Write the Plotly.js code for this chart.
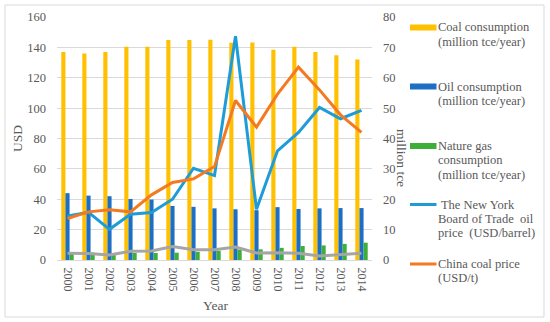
<!DOCTYPE html>
<html><head><meta charset="utf-8">
<script src="https://cdn.plot.ly/plotly-3.0.1.min.js"></script>
<style>html,body{margin:0;padding:0;background:#fff;}#chart{width:550px;height:322px;}</style>
</head><body><div id="chart"></div>
<script>
const years = ['2000','2001','2002','2003','2004','2005','2006','2007','2008','2009','2010','2011','2012','2013','2014'];
const coalConsumption = [68.5,68.0,68.5,70.2,70.2,72.4,72.4,72.5,71.5,71.6,69.2,70.2,68.5,67.4,66.0];
const oilConsumption = [22.0,21.2,21.0,20.1,19.9,17.8,17.5,17.0,16.7,16.4,17.4,16.8,17.0,17.1,17.1];
const gasConsumption = [2.2,2.4,2.3,2.3,2.3,2.4,2.7,3.0,3.4,3.5,4.0,4.6,4.8,5.3,5.7];
const nyOilPrice = [29.0,31.4,20.2,30.1,31.2,40.0,60.4,55.6,147.3,33.4,71.9,84.0,100.4,93.0,98.5];
const chinaCoalPrice = [27.3,31.7,33.0,31.7,42.9,51.0,53.4,61.5,105.0,87.5,109.2,127.0,112.0,95.6,84.0];
const grayPrice = [4.4,4.2,3.3,5.7,5.9,8.8,6.8,6.8,8.6,4.6,4.8,4.4,2.7,3.6,4.5];
const legendLabels = [
  ['Coal consumption','(million tce/year)'],
  ['Oil consumption','(million tce/year)'],
  ['Nature gas','consumption','(million tce/year)'],
  [' The New York','Board of Trade  oil','price  (USD/barrel)'],
  ['China coal price','(USD/t)']
];

const colors = {coal:'#FFC000', oil:'#1C6FC4', gas:'#3DAE3A', ny:'#1E9CD8', cn:'#F47A22', gray:'#A5A5A5'};
const serif = 'Liberation Serif, Times New Roman, serif';
const txt = '#595959';

const traces = [
  {type:'bar', x:years, y:coalConsumption, yaxis:'y', marker:{color:colors.coal}, showlegend:false},
  {type:'bar', x:years, y:oilConsumption, yaxis:'y', marker:{color:colors.oil}, showlegend:false},
  {type:'bar', x:years, y:gasConsumption, yaxis:'y', marker:{color:colors.gas}, showlegend:false},
  {type:'scatter', mode:'lines', x:years, y:grayPrice, yaxis:'y2', line:{color:colors.gray, width:3}, showlegend:false},
  {type:'scatter', mode:'lines', x:years, y:nyOilPrice, yaxis:'y2', line:{color:colors.ny, width:3}, showlegend:false},
  {type:'scatter', mode:'lines', x:years, y:chinaCoalPrice, yaxis:'y2', line:{color:colors.cn, width:3}, showlegend:false}
];

// custom legend
const legendY = [27.5, 86.5, 146, 204.5, 264];
const legendColors = [colors.coal, colors.oil, colors.gas, colors.ny, colors.cn];
const legendIsBar = [true,true,true,false,false];
const px = v => (v-57)/315;
const py = v => (260-v)/243;
const shapes = [
  {type:'rect', xref:'paper', yref:'paper', x0:px(5), x1:px(544), y0:py(317), y1:py(5), line:{color:'#D9D9D9', width:1}, fillcolor:'rgba(0,0,0,0)', layer:'below'}
];
const annotations = [];
legendLabels.forEach((lines,i)=>{
  const h = legendIsBar[i] ? 6 : 3;
  shapes.push({type:'rect', xref:'paper', yref:'paper', x0:px(410), x1:px(436.5), y0:py(legendY[i]+h/2), y1:py(legendY[i]-h/2), line:{width:0}, fillcolor:legendColors[i]});
  lines.forEach((ln,j)=>{
    annotations.push({xref:'paper', yref:'paper', x:px(436), y:py(legendY[i]+j*14.4), xanchor:'left', yanchor:'middle', align:'left', showarrow:false, text:ln, font:{family:serif, size:12.5, color:txt}});
  });
});
annotations.push({xref:'paper', yref:'paper', x:px(402), y:py(158), xanchor:'center', yanchor:'middle', textangle:90, showarrow:false, text:'million tce', font:{family:serif, size:13.5, color:txt}});
annotations.push({xref:'paper', yref:'paper', x:px(17), y:py(139), xanchor:'center', yanchor:'middle', textangle:-90, showarrow:false, text:'USD', font:{family:serif, size:13.5, color:txt}});
annotations.push({xref:'paper', yref:'paper', x:px(215), y:py(305), xanchor:'center', yanchor:'middle', showarrow:false, text:'Year', font:{family:serif, size:13.5, color:txt}});

const layout = {
  width:550, height:322,
  margin:{l:57, r:178, t:17, b:62, pad:0},
  paper_bgcolor:'#fff', plot_bgcolor:'#fff',
  barmode:'group', bargap:0.41, bargroupgap:0,
  showlegend:false,
  font:{family:serif, size:12, color:txt},
  xaxis:{type:'category', tickangle:90, tickfont:{family:serif, size:12, color:txt}, showgrid:false, showline:true, linecolor:'#D9D9D9', linewidth:1, ticks:'', ticklabelstandoff:4},
  yaxis:{side:'right', range:[0,80], dtick:10, showgrid:true, gridcolor:'#D9D9D9', gridwidth:1, zeroline:false, showline:false, ticks:'', tickfont:{family:serif, size:12.5, color:txt}, ticklabelstandoff:10},
  yaxis2:{side:'left', overlaying:'y', range:[0,160], dtick:20, showgrid:false, zeroline:false, showline:false, ticks:'', tickfont:{family:serif, size:12.5, color:txt}, ticklabelstandoff:10},
  shapes: shapes,
  annotations: annotations
};
Plotly.newPlot('chart', traces, layout, {displayModeBar:false, staticPlot:true});
</script></body></html>
